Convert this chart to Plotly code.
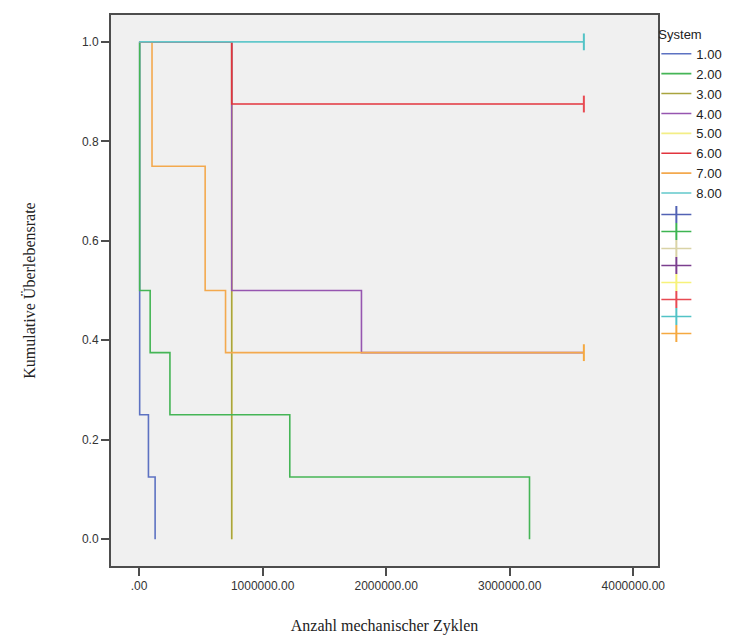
import plotly.graph_objects as go

# ---- data ----
systems = ["1.00", "2.00", "3.00", "4.00", "5.00", "6.00", "7.00", "8.00"]
line_colors = ["#5D72C2", "#45B556", "#A9A43E", "#9656B0", "#F3EE86", "#E2343E", "#F3A94E", "#62C8CB"]
cens_colors = ["#5262B4", "#3DB552", "#D9D3A6", "#7B3F8E", "#F7F27A", "#E84A52", "#52C3C6", "#F5A940"]

t1 = [0, 5000, 76000, 130000]
s1 = [1.0, 0.25, 0.125, 0.0]
t2 = [0, 5000, 90000, 250000, 1220000, 3160000]
s2 = [1.0, 0.5, 0.375, 0.25, 0.125, 0.0]
t3 = [0, 750000]
s3 = [1.0, 0.0]
t4 = [0, 750000, 1800000, 3600000]
s4 = [1.0, 0.5, 0.375, 0.375]
t5 = [0, 750000]
s5 = [1.0, 0.0]
t6 = [0, 750000, 3600000]
s6 = [1.0, 0.875, 0.875]
t7 = [0, 105000, 535000, 700000, 3600000]
s7 = [1.0, 0.75, 0.5, 0.375, 0.375]
t8 = [0, 3600000]
s8 = [1.0, 1.0]

times = [t1, t2, t3, t4, t5, t6, t7, t8]
survs = [s1, s2, s3, s4, s5, s6, s7, s8]

# censored marks, in legend order of the "+" entries
cens_t = [[], [], [], [], [], [3600000], [3600000], [3600000]]
cens_s = [[], [], [], [], [], [0.875], [1.0], [0.375]]

x_tickvals = [0, 1000000, 2000000, 3000000, 4000000]
x_ticktext = [".00", "1000000.00", "2000000.00", "3000000.00", "4000000.00"]
y_tickvals = [0.0, 0.2, 0.4, 0.6, 0.8, 1.0]

# drawing order (for overlap), legend order kept by legendrank
draw_order = [4, 2, 0, 1, 3, 6, 5, 7]

fig = go.Figure()
for i in draw_order:
    fig.add_trace(go.Scatter(
        x=times[i], y=survs[i], mode="lines", line_shape="hv",
        line=dict(color=line_colors[i], width=1.6),
        name=systems[i], legendrank=i + 1, hoverinfo="skip"))

PLOT_H = 551
legend_x = 0.997
extra_legends = {}
for i in range(8):
    lname = "legend%d" % (i + 2)
    fig.add_trace(go.Scatter(
        x=cens_t[i] if cens_t[i] else [None], y=cens_s[i] if cens_s[i] else [None],
        mode="lines+markers",
        line=dict(color=cens_colors[i], width=1.5),
        marker=dict(symbol="line-ns-open", size=12, line=dict(color=cens_colors[i], width=2)),
        name=" ", legend=lname, hoverinfo="skip"))
    top_px = 185 + 17 * i  # offset below plot top (figure coords)
    extra_legends[lname] = dict(
        x=legend_x, xanchor="left", y=1 - top_px / PLOT_H, yanchor="top",
        font=dict(size=9, color="#222222"),
        bgcolor="rgba(0,0,0,0)", itemwidth=30, tracegroupgap=0,
    )

# the page body adds an 8px offset, so the figure is 8px smaller
fig.update_layout(
    width=723, height=627,
    margin=dict(l=103, r=73, t=7, b=69, autoexpand=False),
    paper_bgcolor="white", plot_bgcolor="#F0F0F0",
    font=dict(family="Liberation Sans, Arial, sans-serif", size=12, color="#333333"),
    legend=dict(
        x=legend_x, xanchor="left", y=0.9875, yanchor="top",
        title=dict(text="System", font=dict(size=13, color="#222222")),
        font=dict(size=13, color="#222222"),
        bgcolor="rgba(0,0,0,0)", itemwidth=30, tracegroupgap=0,
    ),
    showlegend=True,
    **extra_legends,
)
fig.update_xaxes(
    range=[-227000, 4200000], tickvals=x_tickvals, ticktext=x_ticktext,
    showgrid=False, zeroline=False, showline=True, mirror=True, automargin=False,
    linecolor="#4d4d4d", linewidth=2, ticks="outside", ticklen=8, tickwidth=2, tickcolor="#4d4d4d",
    tickfont=dict(size=12, color="#333333"),
    title=dict(text="Anzahl mechanischer Zyklen", standoff=29,
               font=dict(family="Liberation Serif, Times New Roman, serif", size=16, color="#222222")),
)
fig.update_yaxes(
    range=[-0.054, 1.054], tickvals=y_tickvals, tickformat=".1f",
    showgrid=False, zeroline=False, showline=True, mirror=True, automargin=False,
    linecolor="#4d4d4d", linewidth=2, ticks="outside", ticklen=8, tickwidth=2, tickcolor="#4d4d4d",
    tickfont=dict(size=12, color="#333333"),
    title=dict(text="Kumulative Überlebensrate", standoff=42,
               font=dict(family="Liberation Serif, Times New Roman, serif", size=16, color="#222222")),
)

fig.write_html("out.html")
